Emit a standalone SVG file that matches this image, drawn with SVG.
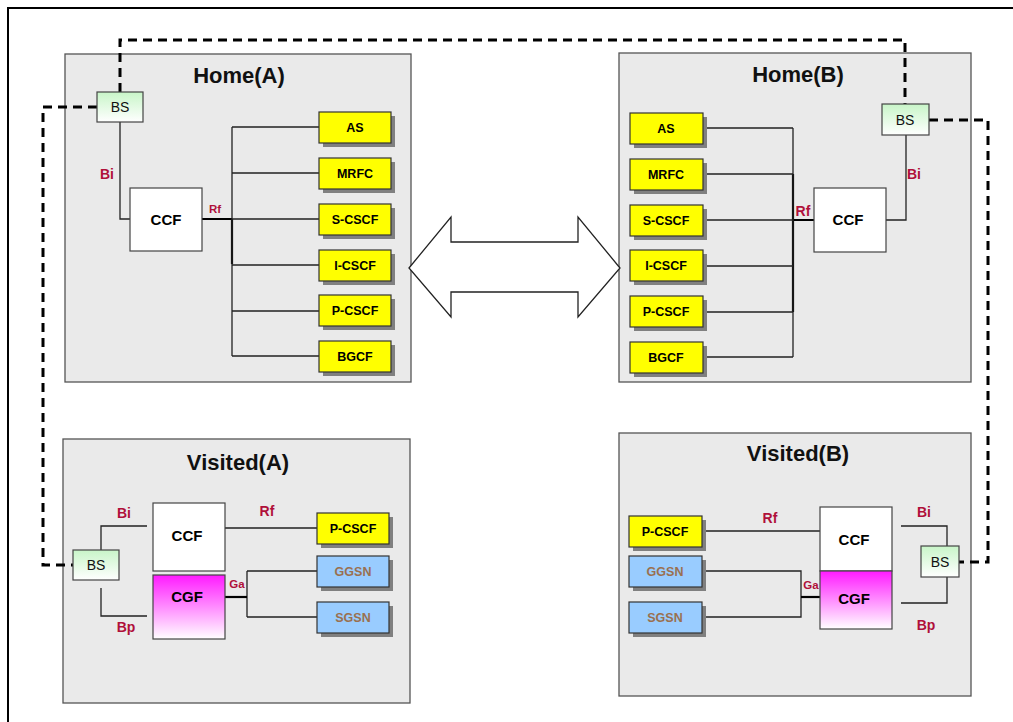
<svg xmlns="http://www.w3.org/2000/svg" width="1013" height="722" viewBox="0 0 1013 722">
<defs>
<linearGradient id="gBS" x1="0" y1="0" x2="0" y2="1"><stop offset="0" stop-color="#c8f5c8"/><stop offset="1" stop-color="#ffffff"/></linearGradient>
<linearGradient id="gCGF" x1="0" y1="0" x2="0" y2="1"><stop offset="0" stop-color="#ff1aff"/><stop offset="1" stop-color="#ffffff"/></linearGradient>
<style>
text{font-family:"Liberation Sans",Arial,sans-serif;text-anchor:middle;}
.area{fill:#eaeaea;stroke:#555;stroke-width:1.3;}
.title{font-size:22px;font-weight:bold;fill:#111;}
.shadow{fill:#808080;}
.yel{fill:#ffff00;stroke:#333;stroke-width:1.2;}
.blu{fill:#99ccff;stroke:#333;stroke-width:1.2;}
.ccf{fill:#fff;stroke:#444;stroke-width:1.2;}
.cgf{fill:url(#gCGF);stroke:#444;stroke-width:1.2;}
.bs{fill:url(#gBS);stroke:#444;stroke-width:1.2;}
.t12{font-size:12.5px;font-weight:bold;fill:#000;}
.tb{font-size:12.5px;font-weight:bold;fill:#9a7050;}
.t14{font-size:15px;font-weight:bold;fill:#000;}
.tbs{font-size:14px;fill:#111;}
.lab{font-size:14px;font-weight:bold;fill:#b0103a;}
.labs{font-size:11.5px;font-weight:bold;fill:#b0103a;}
.ln{fill:none;stroke:#222;stroke-width:1.3;}
.th{fill:none;stroke:#000;stroke-width:2.2;}
.dash{fill:none;stroke:#000;stroke-width:3;stroke-dasharray:9 6;}
</style>
</defs>
<rect width="1013" height="722" fill="#fff"/>
<path d="M8,722 V8 H1013" fill="none" stroke="#000" stroke-width="2"/>

<g id="home-a">
<rect class="area" x="65" y="54" width="346" height="328"/>
<text class="title" x="239" y="83">Home(A)</text>
</g>
<g id="home-b">
<rect class="area" x="619" y="53" width="352" height="329"/>
<text class="title" x="798" y="82">Home(B)</text>
</g>
<g id="visited-a">
<rect class="area" x="63" y="439" width="347" height="264"/>
<text class="title" x="238" y="470">Visited(A)</text>
</g>
<g id="visited-b">
<rect class="area" x="619" y="433" width="352" height="263"/>
<text class="title" x="798" y="461">Visited(B)</text>
</g>

<g id="connectors">
<path class="dash" d="M120,92 V40 H905 V104"/>
<path class="dash" d="M97,107 H43 V565 H73"/>
<path class="dash" d="M929,120 H988 V562 H959"/>
<path class="ln" d="M120,122 V219 H130"/>
<path class="th" d="M202,219 H232 M232,219 V264"/>
<path class="ln" d="M232,127 V356 M232,127 H319 M232,173 H319 M232,219 H319 M232,265 H319 M232,311 H319 M232,356 H319"/>
<path class="ln" d="M906,135 V220 H886"/>
<path class="th" d="M814,220 H793 M793,174 V312"/>
<path class="ln" d="M793,128 V357 M704,128 H793 M704,174 H793 M704,220 H793 M704,266 H793 M704,312 H793 M704,357 H793"/>
<path class="ln" d="M101,550 V526 H147 M101,588 V616 H147 M225,528 H317 M247,571 V617 M247,571 H317 M247,617 H317"/>
<path class="th" d="M225,597 H247"/>
<path class="ln" d="M702,531 H820 M702,571 H801 V617 H702 M901,526 H947 V546 M901,603 H947 V577"/>
<path class="th" d="M801,597 H820"/>
<polygon points="409,268 451,217 451,242 578,242 578,217 620,268 578,317 578,292 451,292 451,317" fill="#fff" stroke="#222" stroke-width="1.3"/>
<text class="lab" x="107" y="179">Bi</text>
<text class="labs" x="215" y="213">Rf</text>
<text class="lab" x="803" y="216">Rf</text>
<text class="lab" x="914" y="179">Bi</text>
<text class="lab" x="124" y="518">Bi</text>
<text class="lab" x="126" y="632">Bp</text>
<text class="lab" x="267" y="516">Rf</text>
<text class="labs" x="237" y="588">Ga</text>
<text class="lab" x="770" y="523">Rf</text>
<text class="labs" x="811" y="589">Ga</text>
<text class="lab" x="924" y="517">Bi</text>
<text class="lab" x="926" y="630">Bp</text>
</g>

<g id="bs-ha"><rect class="bs" x="97" y="92" width="46" height="30"/><text class="tbs" x="120" y="112">BS</text></g>
<g id="ccf-ha"><rect class="ccf" x="130" y="188" width="72" height="63"/><text class="t14" x="166" y="225">CCF</text></g>
<g id="as-a"><rect class="shadow" x="323" y="116" width="72" height="31"/><rect class="yel" x="319" y="112" width="72" height="31"/><text class="t12" x="355" y="132">AS</text></g>
<g id="mrfc-a"><rect class="shadow" x="323" y="162" width="72" height="31"/><rect class="yel" x="319" y="158" width="72" height="31"/><text class="t12" x="355" y="178">MRFC</text></g>
<g id="scscf-a"><rect class="shadow" x="323" y="208" width="72" height="31"/><rect class="yel" x="319" y="204" width="72" height="31"/><text class="t12" x="355" y="224">S-CSCF</text></g>
<g id="icscf-a"><rect class="shadow" x="323" y="254" width="72" height="31"/><rect class="yel" x="319" y="250" width="72" height="31"/><text class="t12" x="355" y="270">I-CSCF</text></g>
<g id="pcscf-a"><rect class="shadow" x="323" y="299" width="72" height="31"/><rect class="yel" x="319" y="295" width="72" height="31"/><text class="t12" x="355" y="315">P-CSCF</text></g>
<g id="bgcf-a"><rect class="shadow" x="323" y="345" width="72" height="31"/><rect class="yel" x="319" y="341" width="72" height="31"/><text class="t12" x="355" y="361">BGCF</text></g>

<g id="bs-hb"><rect class="bs" x="882" y="104" width="47" height="31"/><text class="tbs" x="905" y="125">BS</text></g>
<g id="ccf-hb"><rect class="ccf" x="814" y="188" width="72" height="64"/><text class="t14" x="848" y="225">CCF</text></g>
<g id="as-b"><rect class="shadow" x="634" y="117" width="73" height="31"/><rect class="yel" x="630" y="113" width="73" height="31"/><text class="t12" x="666" y="133">AS</text></g>
<g id="mrfc-b"><rect class="shadow" x="634" y="163" width="73" height="31"/><rect class="yel" x="630" y="159" width="73" height="31"/><text class="t12" x="666" y="179">MRFC</text></g>
<g id="scscf-b"><rect class="shadow" x="634" y="209" width="73" height="31"/><rect class="yel" x="630" y="205" width="73" height="31"/><text class="t12" x="666" y="225">S-CSCF</text></g>
<g id="icscf-b"><rect class="shadow" x="634" y="254" width="73" height="31"/><rect class="yel" x="630" y="250" width="73" height="31"/><text class="t12" x="666" y="270">I-CSCF</text></g>
<g id="pcscf-b"><rect class="shadow" x="634" y="300" width="73" height="31"/><rect class="yel" x="630" y="296" width="73" height="31"/><text class="t12" x="666" y="316">P-CSCF</text></g>
<g id="bgcf-b"><rect class="shadow" x="634" y="346" width="73" height="31"/><rect class="yel" x="630" y="342" width="73" height="31"/><text class="t12" x="666" y="362">BGCF</text></g>

<g id="bs-va"><rect class="bs" x="73" y="550" width="46" height="30"/><text class="tbs" x="96" y="570">BS</text></g>
<g id="ccf-va"><rect class="ccf" x="153" y="503" width="72" height="68"/><text class="t14" x="187" y="541">CCF</text></g>
<g id="cgf-va"><rect class="cgf" x="153" y="575" width="72" height="64"/><text class="t14" x="187" y="602">CGF</text></g>
<g id="pcscf-va"><rect class="shadow" x="321" y="517" width="72" height="31"/><rect class="yel" x="317" y="513" width="72" height="31"/><text class="t12" x="353" y="533">P-CSCF</text></g>
<g id="ggsn-va"><rect class="shadow" x="321" y="560" width="72" height="31"/><rect class="blu" x="317" y="556" width="72" height="31"/><text class="tb" x="353" y="576">GGSN</text></g>
<g id="sgsn-va"><rect class="shadow" x="321" y="606" width="72" height="31"/><rect class="blu" x="317" y="602" width="72" height="31"/><text class="tb" x="353" y="622">SGSN</text></g>

<g id="bs-vb"><rect class="bs" x="921" y="546" width="38" height="31"/><text class="tbs" x="940" y="567">BS</text></g>
<g id="ccf-vb"><rect class="ccf" x="820" y="507" width="72" height="64"/><text class="t14" x="854" y="545">CCF</text></g>
<g id="cgf-vb"><rect class="cgf" x="820" y="571" width="72" height="58"/><text class="t14" x="854" y="604">CGF</text></g>
<g id="pcscf-vb"><rect class="shadow" x="633" y="520" width="73" height="31"/><rect class="yel" x="629" y="516" width="73" height="31"/><text class="t12" x="665" y="536">P-CSCF</text></g>
<g id="ggsn-vb"><rect class="shadow" x="633" y="560" width="73" height="31"/><rect class="blu" x="629" y="556" width="73" height="31"/><text class="tb" x="665" y="576">GGSN</text></g>
<g id="sgsn-vb"><rect class="shadow" x="633" y="606" width="73" height="31"/><rect class="blu" x="629" y="602" width="73" height="31"/><text class="tb" x="665" y="622">SGSN</text></g>
</svg>
